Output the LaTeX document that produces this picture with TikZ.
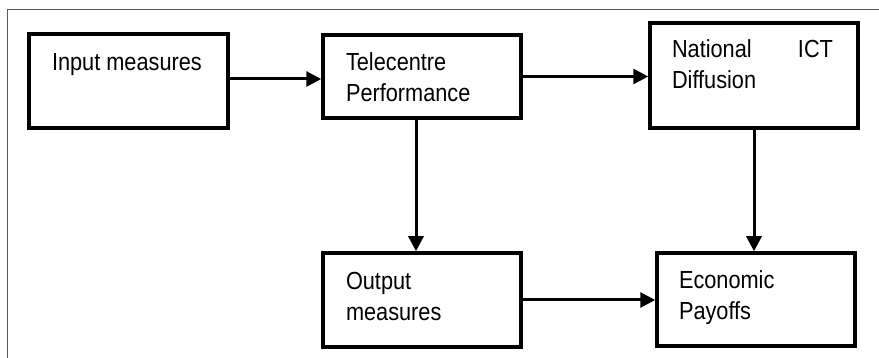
\documentclass[tikz,border=0pt]{standalone}
\usepackage{fontspec}
\setmainfont{Liberation Sans}[FakeStretch=0.88]
\usetikzlibrary{arrows.meta}
\tikzset{
  stage/.style={draw=black, line width=3.5pt, fill=white, inner sep=0pt},
  flow/.style={line width=3pt, -{Triangle[length=15pt,width=15pt]}},
  label/.style={anchor=base west, inner sep=0pt, outer sep=0pt, text=black,
    font=\fontsize{24.7}{31}\selectfont},
  frame/.style={draw=black!65, line width=1.5pt}
}
\begin{document}
\begin{tikzpicture}[x=1pt, y=-1pt]
\useasboundingbox (0,0) rectangle (879,358);
% outer frame (top and left edges)
\coordinate (fbl) at (7.5,358);
\coordinate (ftl) at (7.5,9.5);
\coordinate (ftr) at (879,9.5);
\draw[frame] (fbl) -- (ftl) -- (ftr);

% boxes
\node[stage, minimum width=199pt, minimum height=94pt]  (input)  at (128.5,81)  {};
\node[stage, minimum width=198pt, minimum height=83pt]  (tele)   at (422,76.5)  {};
\node[stage, minimum width=208pt, minimum height=105pt] (ict)    at (754,75.5)  {};
\node[stage, minimum width=198pt, minimum height=94pt]  (output) at (422,300)   {};
\node[stage, minimum width=198pt, minimum height=93pt]  (econ)   at (756,299.5) {};

% box texts
\node[label] (tInput) at (52,71) {Input measures};
\node[label] (tTele1) at (346,70.7) {Telecentre};
\node[label] (tTele2) at (346,101.7) {Performance};
\node[label] (tIct1) at (672,57.7) {\makebox[161pt][s]{National\hfill ICT}};
\node[label] (tIct2) at (672,89) {Diffusion};
\node[label] (tOut1) at (346,290) {Output};
\node[label] (tOut2) at (346,320) {measures};
\node[label] (tEcon1) at (679,288.3) {Economic};
\node[label] (tEcon2) at (679,319.3) {Payoffs};

% connectors
\draw[flow] ([yshift=2pt]input.east) -- ([yshift=2pt]input.east -| tele.west);
\draw[flow] (tele.east) -- (tele.east -| ict.west);
\draw[flow] ([xshift=-6pt]tele.south) -- ([xshift=-6pt]output.north);
\draw[flow] (ict.south) -- (ict.south |- econ.north);
\draw[flow] (output.east) -- (output.east -| econ.west);
\end{tikzpicture}
\end{document}
